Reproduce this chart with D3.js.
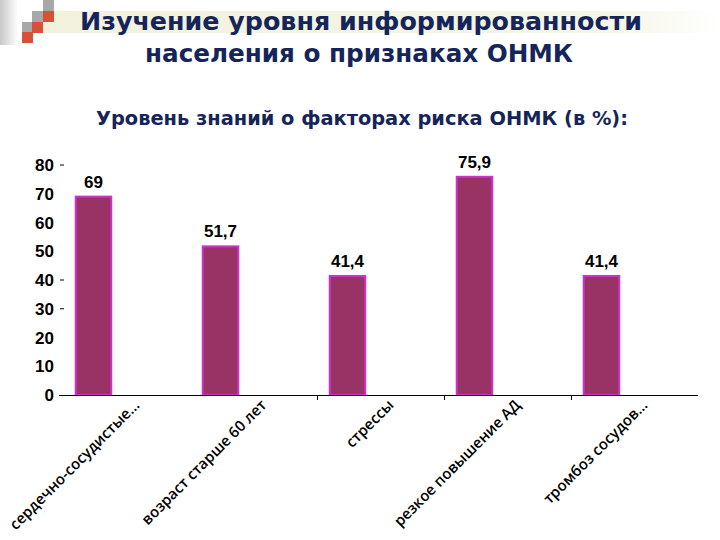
<!DOCTYPE html>
<html><head><meta charset="utf-8">
<script src="https://cdn.jsdelivr.net/npm/d3@7"></script>
<style>body{margin:0;background:#fff}svg{display:block}</style>
</head><body>
<script>
const categories = ["сердечно-сосудистые…","возраст старше 60 лет","стрессы","резкое повышение АД","тромбоз сосудов…"];
const values = [69, 51.7, 41.4, 75.9, 41.4];
const valueLabels = ["69","51,7","41,4","75,9","41,4"];
const yTicks = [0,10,20,30,40,50,60,70,80];
const yTickMarks = [30,40,80];
const xTickCats = ["стрессы","резкое повышение АД","тромбоз сосудов…"];
const titleLines = ["Изучение  уровня информированности","населения о признаках ОНМК"];
const subtitle = "Уровень знаний о факторах риска ОНМК (в %):";

const W=720,H=540;
const svg=d3.select("body").append("svg").attr("width",W).attr("height",H);
const defs=svg.append("defs");
const g1=defs.append("linearGradient").attr("id","lg");
g1.append("stop").attr("offset","0").attr("stop-color","#c8c8c8");
g1.append("stop").attr("offset","1").attr("stop-color","#ffffff");
const g2=defs.append("linearGradient").attr("id","band");
g2.append("stop").attr("offset","0").attr("stop-color","#f1f1dc");
g2.append("stop").attr("offset","0.85").attr("stop-color","#f6f6e8");
g2.append("stop").attr("offset","1").attr("stop-color","#ffffff");

// decoration
svg.append("rect").attr("x",0).attr("y",0).attr("width",18).attr("height",45).attr("fill","url(#lg)");
svg.append("rect").attr("x",32).attr("y",11).attr("width",688).attr("height",22).attr("fill","url(#band)");
const sq=[[43,0,"#a8a8a8"],[32,11,"#a8a8a8"],[43,11,"#d9503a"],[22,22,"#a8a8a8"],[32,22,"#d9503a"],[22,32,"#d9503a"]];
sq.forEach(s=>svg.append("rect").attr("x",s[0]).attr("y",s[1]).attr("width",11).attr("height",11).attr("fill",s[2]));

// titles
const tcol="#15255a";
svg.append("text").attr("x",361).attr("y",30).attr("text-anchor","middle")
  .attr("font-family","DejaVu Sans").attr("font-weight","bold").attr("font-size",25).attr("fill",tcol)
  .attr("textLength",562).attr("lengthAdjust","spacingAndGlyphs").text(titleLines[0]);
svg.append("text").attr("x",359).attr("y",62).attr("text-anchor","middle")
  .attr("font-family","DejaVu Sans").attr("font-weight","bold").attr("font-size",25).attr("fill",tcol)
  .attr("textLength",428).attr("lengthAdjust","spacingAndGlyphs").text(titleLines[1]);
svg.append("text").attr("x",362).attr("y",125).attr("text-anchor","middle")
  .attr("font-family","DejaVu Sans").attr("font-weight","bold").attr("font-size",19).attr("fill",tcol)
  .attr("textLength",532).attr("lengthAdjust","spacingAndGlyphs").text(subtitle);

// scales
const y=d3.scaleLinear().domain([0,80]).range([395,165]);
const x=d3.scaleBand().domain(categories).range([30,665]).paddingInner(0.72).paddingOuter(0.36);
const bw=x.bandwidth();

// y labels
svg.append("g").selectAll("text").data(yTicks).join("text")
  .attr("x",54).attr("y",d=>y(d)+6).attr("text-anchor","end")
  .attr("font-family","Liberation Sans, Arial").attr("font-weight","bold").attr("font-size",17).attr("fill","#000")
  .text(d=>d);
svg.append("g").selectAll("line").data(yTickMarks).join("line")
  .attr("x1",60).attr("x2",64).attr("y1",d=>y(d)).attr("y2",d=>y(d)).attr("stroke","#000").attr("stroke-width",1);

// bars
svg.append("g").selectAll("rect").data(values).join("rect")
  .attr("x",(d,i)=>x(categories[i])).attr("y",d=>y(d)).attr("width",bw).attr("height",d=>y(0)-y(d))
  .attr("fill","#993366").attr("stroke","#cc33cc").attr("stroke-width",2);

// value labels
svg.append("g").selectAll("text").data(values).join("text")
  .attr("x",(d,i)=>x(categories[i])+bw/2).attr("y",d=>y(d)-9).attr("text-anchor","middle")
  .attr("font-family","Liberation Sans, Arial").attr("font-weight","bold").attr("font-size",17).attr("fill","#000")
  .text((d,i)=>valueLabels[i]);

// x axis
svg.append("line").attr("x1",59).attr("x2",698).attr("y1",y(0)+0.5).attr("y2",y(0)+0.5).attr("stroke","#000").attr("stroke-width",1);
svg.append("g").selectAll("line").data(xTickCats).join("line")
  .attr("x1",d=>x(d)+bw/2-30).attr("x2",d=>x(d)+bw/2-30).attr("y1",y(0)).attr("y2",y(0)+5).attr("stroke","#000");

svg.append("g").selectAll("text").data(categories).join("text")
  .attr("transform",d=>`translate(${x(d)+bw/2+47},${y(0)+11}) rotate(-45)`)
  .attr("text-anchor","end")
  .attr("font-family","Open Sans").attr("font-weight",600).attr("font-size",15).attr("fill","#000")
  .text(d=>d);
</script>
</body></html>
